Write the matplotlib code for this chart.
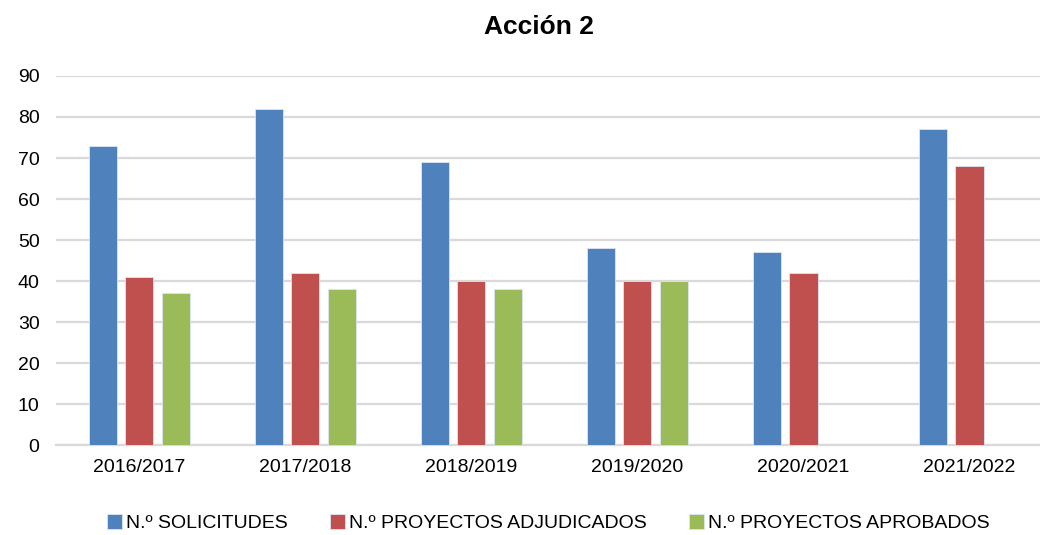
import numpy as np
import matplotlib.pyplot as plt

plt.rcParams['font.family'] = ['Liberation Sans', 'DejaVu Sans']

# Data
cursos = ['2016/2017', '2017/2018', '2018/2019', '2019/2020', '2020/2021', '2021/2022']
solicitudes = [73, 82, 69, 48, 47, 77]
adjudicados = [41, 42, 40, 40, 42, 68]
aprobados = [37, 38, 38, 40, np.nan, np.nan]

series = [
    ('N.º SOLICITUDES', solicitudes, '#4f81bd'),
    ('N.º PROYECTOS ADJUDICADOS', adjudicados, '#c0504d'),
    ('N.º PROYECTOS APROBADOS', aprobados, '#9bbb59'),
]

fig = plt.figure(figsize=(10.4, 5.35), dpi=100)
ax = fig.add_axes([0.054, 0.168, 0.958, 0.69])

x = np.arange(len(cursos))
width = 0.17
offsets = [-0.22, 0, 0.22]
for (name, vals, color), off in zip(series, offsets):
    ax.bar(x + off, vals, width, color=color, edgecolor='#dce6f2', linewidth=0.6,
           label=name, zorder=3)

ax.set_xlim(-0.5, len(cursos) - 0.5)
ax.set_ylim(0, 90)
ax.set_yticks(range(0, 91, 10))
ax.set_xticks(x)
ax.set_xticklabels(cursos)
ax.tick_params(axis='both', length=0, labelsize=14)
ax.tick_params(axis='x', pad=10)
ax.tick_params(axis='y', pad=12)
ax.grid(axis='y', color='#d9d9d9', linewidth=1.6, zorder=0)
for s in ['top', 'right', 'left']:
    ax.spines[s].set_visible(False)
ax.spines['bottom'].set_color('#d9d9d9')
ax.spines['bottom'].set_linewidth(1.6)

fig.text(0.518, 0.95, 'Acción 2', ha='center', va='center', fontsize=19, fontweight='bold')

fig.legend(loc='center', bbox_to_anchor=(0.527, 0.022), ncol=3, frameon=False,
           fontsize=14, handlelength=0.75, handleheight=0.75, handletextpad=0.2,
           columnspacing=2.2)

fig.savefig('out.png', dpi=100)
